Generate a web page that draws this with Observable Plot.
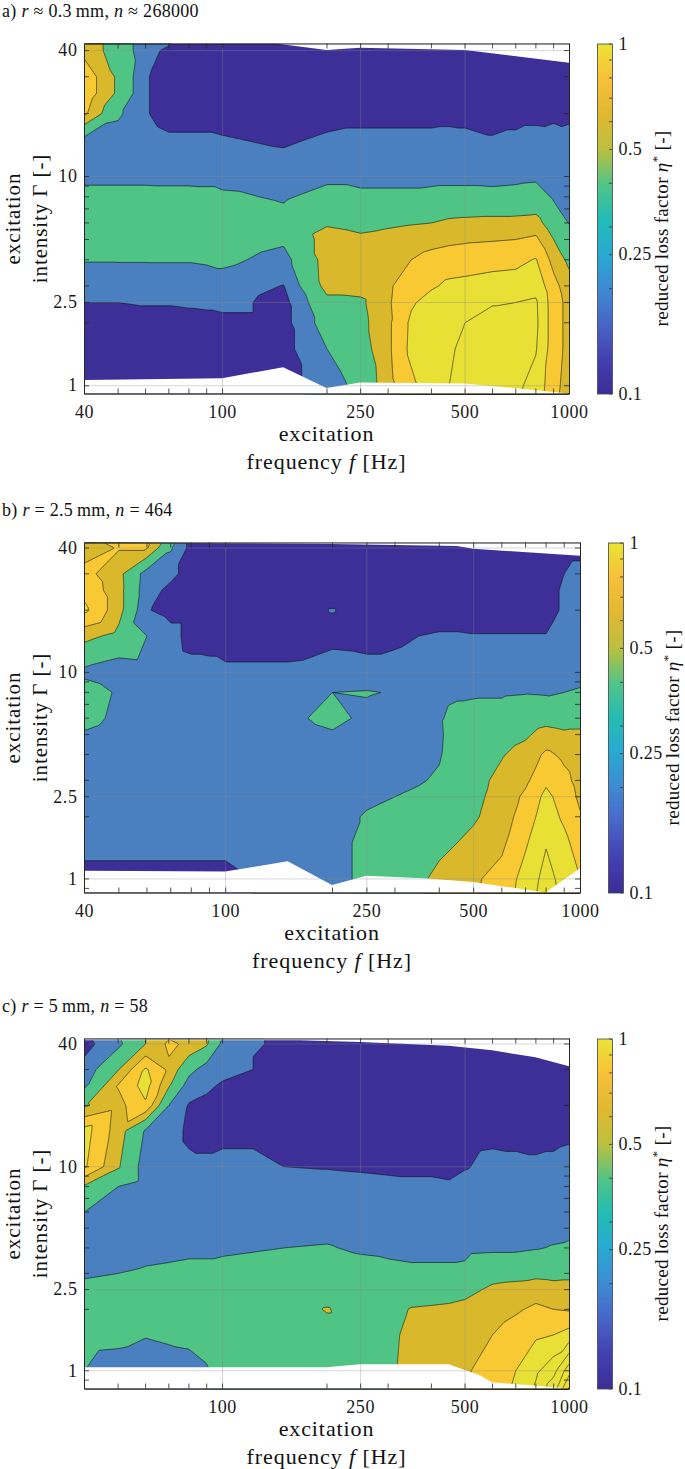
<!DOCTYPE html>
<html><head><meta charset="utf-8">
<script src="https://cdn.jsdelivr.net/npm/d3@7"></script>
<script src="https://cdn.jsdelivr.net/npm/@observablehq/plot@0.6"></script>
<style>
body{margin:0;background:#fff;}
#root{position:relative;width:685px;height:1469px;overflow:hidden;background:#fff;}
.panel{position:absolute;left:0;width:685px;height:484px;}
.panel svg{position:absolute;top:0;}
</style></head><body><div id="root"></div>
<script>
// excitation frequency f [Hz] (grid columns) and excitation intensity Γ [-] (grid rows, top to bottom)
const freqs = [40,50,60,70,80,90,100,150,200,250,300,350,400,450,500,600,700,800,900,1000];
const gammas = [46,40,30,25,20,15,10,8,6,5,4,3,2.5,2,1.5,1,0.8];

// reduced loss factor η* — one array per frequency column (values over gammas)
const etaA = [
 [0.6,0.6,0.75,0.75,0.68,0.25,0.24,0.38,0.42,0.4,0.31,0.2,0.15,0.1,0.1,0.1,0.1],
 [0.42,0.42,0.47,0.47,0.33,0.22,0.24,0.38,0.42,0.4,0.31,0.21,0.15,0.1,0.1,0.1,0.1],
 [0.22,0.2,0.16,0.16,0.16,0.2,0.24,0.38,0.42,0.4,0.31,0.21,0.16,0.1,0.1,0.1,0.1],
 [0.2,0.12,0.1,0.1,0.1,0.17,0.24,0.37,0.42,0.4,0.31,0.22,0.16,0.1,0.1,0.1,0.1],
 [0.12,0.1,0.1,0.1,0.1,0.17,0.24,0.37,0.42,0.4,0.31,0.22,0.17,0.1,0.1,0.1,0.1],
 [0.1,0.1,0.1,0.1,0.1,0.17,0.24,0.36,0.42,0.4,0.32,0.22,0.18,0.1,0.1,0.1,0.1],
 [0.1,0.1,0.1,0.1,0.1,0.16,0.24,0.33,0.42,0.4,0.34,0.22,0.2,0.1,0.1,0.1,0.1],
 [0.1,0.1,0.1,0.1,0.1,0.13,0.22,0.28,0.36,0.33,0.24,0.145,0.1,0.1,0.1,0.1,0.1],
 [0.1,0.1,0.1,0.1,0.1,0.17,0.26,0.36,0.48,0.57,0.57,0.56,0.45,0.38,0.3,0.22,0.2],
 [0.1,0.1,0.1,0.1,0.1,0.19,0.26,0.33,0.45,0.53,0.6,0.56,0.47,0.45,0.42,0.35,0.33],
 [0.1,0.1,0.1,0.1,0.1,0.19,0.26,0.33,0.47,0.56,0.6,0.62,0.63,0.62,0.62,0.6,0.58],
 [0.1,0.1,0.1,0.1,0.1,0.19,0.26,0.33,0.49,0.57,0.65,0.76,0.78,0.83,0.84,0.76,0.74],
 [0.1,0.1,0.1,0.1,0.1,0.19,0.26,0.34,0.5,0.6,0.7,0.78,0.86,0.9,0.92,0.9,0.88],
 [0.1,0.1,0.1,0.1,0.1,0.2,0.26,0.35,0.53,0.62,0.72,0.83,0.88,0.9,0.92,0.95,0.95],
 [0.1,0.1,0.1,0.1,0.1,0.19,0.26,0.35,0.54,0.63,0.73,0.84,0.9,0.95,1.0,1.0,0.98],
 [0.1,0.1,0.1,0.1,0.1,0.16,0.25,0.35,0.55,0.64,0.75,0.86,0.94,1.0,1.02,1.0,0.98],
 [0.1,0.1,0.1,0.1,0.1,0.18,0.26,0.36,0.55,0.65,0.76,0.87,0.95,1.0,1.0,0.98,0.96],
 [0.1,0.1,0.1,0.1,0.1,0.21,0.27,0.38,0.56,0.68,0.81,0.9,0.97,0.98,0.96,0.9,0.88],
 [0.1,0.1,0.1,0.1,0.12,0.2,0.24,0.28,0.4,0.5,0.6,0.7,0.72,0.72,0.72,0.7,0.68],
 [0.1,0.1,0.1,0.11,0.13,0.18,0.22,0.25,0.29,0.35,0.46,0.56,0.6,0.6,0.6,0.58,0.56]
];
const etaB = [
 [0.58,0.58,0.7,0.76,0.83,0.55,0.26,0.38,0.36,0.28,0.22,0.22,0.22,0.22,0.2,0.1,0.1],
 [0.72,0.66,0.55,0.56,0.56,0.45,0.2,0.28,0.26,0.22,0.22,0.22,0.22,0.22,0.2,0.1,0.1],
 [0.72,0.66,0.22,0.2,0.16,0.3,0.22,0.22,0.22,0.22,0.22,0.22,0.22,0.22,0.2,0.1,0.1],
 [0.45,0.32,0.18,0.12,0.1,0.2,0.22,0.22,0.22,0.22,0.22,0.22,0.22,0.22,0.2,0.1,0.1],
 [0.1,0.1,0.1,0.1,0.1,0.1,0.2,0.22,0.22,0.22,0.22,0.22,0.22,0.22,0.2,0.1,0.1],
 [0.1,0.1,0.1,0.1,0.1,0.1,0.19,0.22,0.22,0.22,0.22,0.22,0.22,0.22,0.2,0.1,0.1],
 [0.1,0.1,0.1,0.1,0.1,0.1,0.17,0.22,0.22,0.22,0.22,0.22,0.22,0.22,0.2,0.1,0.1],
 [0.1,0.1,0.1,0.1,0.1,0.1,0.17,0.22,0.26,0.22,0.22,0.22,0.22,0.22,0.22,0.22,0.22],
 [0.1,0.1,0.1,0.1,0.155,0.11,0.22,0.3,0.35,0.28,0.22,0.22,0.22,0.22,0.22,0.22,0.22],
 [0.1,0.1,0.1,0.1,0.1,0.1,0.2,0.31,0.26,0.22,0.22,0.22,0.26,0.32,0.36,0.36,0.36],
 [0.1,0.1,0.1,0.1,0.1,0.12,0.2,0.29,0.23,0.22,0.22,0.22,0.3,0.36,0.4,0.4,0.4],
 [0.1,0.1,0.1,0.1,0.1,0.15,0.22,0.22,0.22,0.22,0.24,0.28,0.34,0.4,0.44,0.47,0.48],
 [0.1,0.1,0.1,0.1,0.1,0.16,0.22,0.24,0.28,0.27,0.28,0.33,0.38,0.42,0.46,0.54,0.56],
 [0.1,0.1,0.1,0.1,0.1,0.16,0.22,0.27,0.36,0.4,0.42,0.44,0.45,0.47,0.5,0.6,0.62],
 [0.1,0.1,0.1,0.1,0.1,0.155,0.22,0.28,0.36,0.41,0.43,0.45,0.46,0.48,0.54,0.63,0.64],
 [0.1,0.1,0.1,0.1,0.1,0.155,0.22,0.28,0.37,0.44,0.49,0.54,0.56,0.58,0.62,0.7,0.72],
 [0.1,0.1,0.1,0.1,0.1,0.155,0.22,0.29,0.42,0.48,0.55,0.62,0.68,0.72,0.78,0.86,0.88],
 [0.1,0.1,0.1,0.1,0.1,0.155,0.22,0.28,0.45,0.55,0.68,0.77,0.84,0.88,0.94,1.0,1.02],
 [0.1,0.1,0.15,0.17,0.17,0.22,0.22,0.3,0.42,0.53,0.62,0.69,0.73,0.77,0.84,0.9,0.92],
 [0.1,0.1,0.2,0.22,0.22,0.22,0.24,0.32,0.44,0.53,0.57,0.6,0.62,0.66,0.72,0.8,0.82]
];
const etaC = [
 [0.1,0.1,0.2,0.27,0.48,0.86,0.82,0.48,0.3,0.24,0.22,0.28,0.34,0.38,0.36,0.3,0.28],
 [0.3,0.26,0.49,0.66,0.6,0.58,0.52,0.3,0.22,0.22,0.22,0.3,0.36,0.4,0.35,0.22,0.2],
 [0.5,0.5,0.82,0.86,0.78,0.28,0.22,0.22,0.22,0.22,0.25,0.32,0.36,0.38,0.31,0.2,0.2],
 [0.6,0.68,0.62,0.52,0.3,0.22,0.22,0.22,0.22,0.22,0.26,0.33,0.38,0.4,0.33,0.22,0.2],
 [0.68,0.62,0.36,0.22,0.14,0.12,0.18,0.22,0.22,0.22,0.27,0.34,0.38,0.4,0.34,0.24,0.22],
 [0.58,0.52,0.22,0.18,0.11,0.1,0.18,0.22,0.22,0.22,0.27,0.34,0.38,0.4,0.38,0.28,0.26],
 [0.3,0.26,0.2,0.13,0.1,0.1,0.2,0.22,0.22,0.22,0.28,0.34,0.38,0.4,0.42,0.4,0.4],
 [0.1,0.1,0.1,0.1,0.1,0.1,0.15,0.22,0.22,0.24,0.3,0.36,0.4,0.42,0.43,0.42,0.42],
 [0.1,0.1,0.1,0.1,0.1,0.1,0.14,0.22,0.24,0.26,0.31,0.38,0.42,0.51,0.44,0.44,0.44],
 [0.1,0.1,0.1,0.1,0.1,0.1,0.13,0.2,0.22,0.24,0.28,0.36,0.4,0.42,0.44,0.45,0.45],
 [0.1,0.1,0.1,0.1,0.1,0.1,0.12,0.19,0.22,0.24,0.27,0.34,0.4,0.44,0.46,0.47,0.47],
 [0.1,0.1,0.1,0.1,0.1,0.1,0.12,0.18,0.22,0.23,0.26,0.33,0.42,0.51,0.54,0.55,0.55],
 [0.1,0.1,0.1,0.1,0.1,0.1,0.12,0.18,0.22,0.23,0.26,0.33,0.42,0.52,0.56,0.58,0.58],
 [0.1,0.1,0.1,0.1,0.1,0.1,0.11,0.17,0.22,0.23,0.26,0.33,0.43,0.53,0.58,0.6,0.6],
 [0.1,0.1,0.1,0.1,0.1,0.1,0.14,0.2,0.22,0.23,0.26,0.34,0.45,0.55,0.6,0.63,0.63],
 [0.1,0.1,0.1,0.1,0.1,0.11,0.19,0.22,0.22,0.23,0.27,0.44,0.53,0.58,0.65,0.72,0.74],
 [0.1,0.1,0.1,0.1,0.1,0.11,0.18,0.22,0.22,0.23,0.27,0.45,0.55,0.63,0.72,0.8,0.82],
 [0.1,0.1,0.1,0.1,0.1,0.11,0.17,0.22,0.22,0.24,0.29,0.46,0.58,0.68,0.78,0.92,0.98],
 [0.1,0.1,0.1,0.1,0.1,0.11,0.18,0.22,0.22,0.25,0.31,0.45,0.56,0.65,0.8,1.05,1.2],
 [0.1,0.1,0.1,0.1,0.11,0.12,0.2,0.22,0.24,0.27,0.32,0.46,0.56,0.64,0.86,1.35,1.6]
];

// measured range (upper / lower Γ limit of the data) per frequency
const topA_f = [40,100,143,200,250,500,590,1000], topA_g = [43,43,43,40,41,40,38.7,34.8];
const botA_f = [40,100,150,200,250,500,1000], botA_g = [1.06,1.08,1.22,0.97,1.03,1.02,0.913];
const topB_f = [40,200,450,500,1000], topB_g = [42.3,41.6,40.7,39.4,36.5];
const botB_f = [40,100,121,150,200,250,373,500,800,1000], botB_g = [1.09,1.08,1.14,1.21,0.93,1.03,1.0,0.96,0.855,1.12];
const topC_f = [40,167,250,450,600,800,1000], topC_g = [41.5,41.5,40.7,39.0,37.0,34.2,30.9];
const botC_f = [40,200,250,450,553,600,910,1000], botC_g = [1.034,1.034,1.07,1.07,0.945,0.873,0.826,0.814];

// contour levels and band colours
const levels = [0.05,0.15,0.3,0.5,0.65,0.8,0.95,1.1,1.25,1.4,1.55];
const bandColors = ["#3d2f97","#4a7fc0","#50c484","#d9b92b","#f8c933","#e8e035"];
// tick labels
const xTickLabels = [40,100,250,500,1000];
const xTickLabelsC = [100,250,500,1000];
const yTickLabels = [1,2.5,10,40];
const cbTickLabels = [0.1,0.25,0.5,1];
// colour bar (parula-like) stops
const cbStops = [0.1,0.1259,0.1585,0.1995,0.2512,0.3162,0.3981,0.5012,0.631,0.7943,1];
const cbColors = ["#3c2d96","#4340b2","#4765c8","#3f8ad3","#28a9d2","#22bcb4","#52c486","#bcc03e","#e0b830","#f8c03a","#eae335"];

const FONT = '"Liberation Serif", "Times New Roman", serif';
const panels = [
  {title:[["a) ",0],["r",1],[" ≈ 0.3\u2009mm, ",0],["n",1],[" ≈ 268000",0]], eta:etaA, topF:topA_f, topG:topA_g, botF:botA_f, botG:botA_g, yDomain:[0.913,43], right:569, offset:0, xLabels:xTickLabels},
  {title:[["b) ",0],["r",1],[" = 2.5\u2009mm, ",0],["n",1],[" = 464",0]], eta:etaB, topF:topB_f, topG:topB_g, botF:botB_f, botG:botB_g, yDomain:[0.855,42.3], right:580, offset:498.5, xLabels:xTickLabels},
  {title:[["c) ",0],["r",1],[" = 5\u2009mm, ",0],["n",1],[" = 58",0]], eta:etaC, topF:topC_f, topG:topC_g, botF:botC_f, botG:botC_g, yDomain:[0.814,42.3], right:569, offset:995, xLabels:xTickLabelsC}
];

const MT = 43.5, FH = 350, H = 484, TL = 5;
const root = document.getElementById("root");

function addText(svg, x, y, parts, size, rot = 0, anchor = "middle", ls = "0.6px") {
  const t = d3.select(svg).append("text")
    .attr("transform", `translate(${x},${y}) rotate(${rot})`)
    .attr("text-anchor", anchor).attr("font-size", size)
    .attr("font-family", FONT).attr("fill", "#111").style("letter-spacing", ls);
  for (const [s, it, sup] of parts) {
    const sp = t.append("tspan").text(s);
    if (it) sp.attr("font-style", "italic");
    if (sup === 1) sp.attr("dy", -7).attr("font-size", size * 0.7);
    if (sup === -1) sp.attr("dy", 7);
  }
}

for (const p of panels) {
  const div = document.createElement("div");
  div.className = "panel";
  div.style.top = p.offset + "px";
  root.appendChild(div);
  const FW = p.right - 84;
  const pts = [];
  p.eta.forEach((col, i) => col.forEach((v, j) => pts.push({f: freqs[i], g: gammas[j], v})));
  const top = p.topF.map((f, i) => ({f, g: p.topG[i]}));
  const bot = p.botF.map((f, i) => ({f, g: p.botG[i]}));
  const xt = Array.from(new Set([...d3.scaleLog().domain([40, 1000]).ticks(), ...xTickLabels])).sort((a, b) => a - b);
  const yt = Array.from(new Set([...d3.scaleLog().domain(p.yDomain).ticks(), ...yTickLabels])).sort((a, b) => a - b);
  const tk = {stroke: "#262626", strokeWidth: 0.8};
  const grid = {stroke: "#8a8a8a", strokeOpacity: 0.35, strokeWidth: 1};
  const svg = Plot.plot({
    width: 685, height: H,
    marginLeft: 84, marginRight: 685 - p.right, marginTop: MT, marginBottom: H - MT - FH,
    style: {fontFamily: FONT, fontSize: "18px", color: "#1a1a1a", background: "transparent", letterSpacing: "0.6px"},
    x: {type: "log", domain: [40, 1000], axis: null},
    y: {type: "log", domain: p.yDomain, axis: null},
    color: {type: "threshold", domain: levels.slice(1, 6), range: bandColors},
    marks: [
      Plot.contour(pts, {x: "f", y: "g", fill: "v", thresholds: levels, interpolate: "barycentric", pixelSize: 1, stroke: "#111", strokeWidth: 0.6}),
      Plot.areaY(top, {x: "f", y1: "g", y2: () => p.yDomain[1], fill: "white"}),
      Plot.areaY(bot, {x: "f", y1: () => p.yDomain[0], y2: "g", fill: "white"}),
      Plot.gridX(xTickLabels, grid),
      Plot.gridY(yTickLabels, grid),
      Plot.tickX(xt, {x: d => d, insetTop: FH - TL, ...tk}),
      Plot.tickX(xt, {x: d => d, insetBottom: FH - TL, ...tk}),
      Plot.tickY(yt, {y: d => d, insetRight: FW - TL, ...tk}),
      Plot.tickY(yt, {y: d => d, insetLeft: FW - TL, ...tk}),
      Plot.frame({stroke: "#262626", strokeWidth: 1}),
      Plot.text(p.xLabels, {x: d => d, text: d => String(d), frameAnchor: "bottom", lineAnchor: "top", dy: 11, fontSize: 18, fill: "#1a1a1a"}),
      Plot.text(yTickLabels, {y: d => d, text: d => String(d), frameAnchor: "left", textAnchor: "end", dx: -7, fontSize: 18, fill: "#1a1a1a"})
    ]
  });
  svg.style.left = "0px";
  div.appendChild(svg);
  const cx = (84 + p.right) / 2, bottom = MT + FH;
  addText(svg, 2, MT - 27, p.title, 18, 0, "start", "0.3px");
  addText(svg, cx, bottom + 47, [["excitation", 0]], 22, 0, "middle", "0.9px");
  addText(svg, cx, bottom + 75, [["frequency ", 0], ["f", 1], [" [Hz]", 0]], 22, 0, "middle", "0.9px");
  addText(svg, 20, MT + FH / 2, [["excitation", 0]], 21, -90, "middle", "0.9px");
  addText(svg, 47, MT + FH / 2, [["intensity Γ [-]", 0]], 21, -90, "middle", "0.9px");

  // colour bar
  const cbX = p.right + 28;
  const cbt = Array.from(new Set([...d3.scaleLog().domain([0.1, 1]).ticks(), ...cbTickLabels])).sort((a, b) => a - b);
  const cb = Plot.plot({
    width: 88, height: H, marginLeft: 0, marginRight: 73, marginTop: MT, marginBottom: H - MT - FH,
    style: {fontFamily: FONT, fontSize: "18px", color: "#1a1a1a", background: "transparent", letterSpacing: "0.4px"},
    x: {domain: [0, 1], axis: null},
    y: {type: "log", domain: [0.1, 1], axis: null},
    color: {type: "log", domain: cbStops, range: cbColors},
    marks: [
      Plot.raster({x1: 0, x2: 1, y1: 0.1, y2: 1, fill: (x, y) => y, pixelSize: 1}),
      Plot.tickY(cbt, {y: d => d, insetLeft: 12, stroke: "#333", strokeWidth: 0.8}),
      Plot.frame({stroke: "#444", strokeWidth: 0.8}),
      Plot.text(cbTickLabels, {y: d => d, text: d => String(d), frameAnchor: "right", textAnchor: "start", dx: 6, fontSize: 18, fill: "#1a1a1a"})
    ]
  });
  cb.style.left = cbX + "px";
  div.appendChild(cb);
  const lx = Math.min(71, 680 - cbX);
  addText(cb, lx, MT + FH / 2 + 10, [["reduced loss factor ", 0], ["η", 1], ["*", 0, 1], [" [-]", 0, -1]], 19, -90, "middle", "0.3px");
}
</script>
</body></html>
